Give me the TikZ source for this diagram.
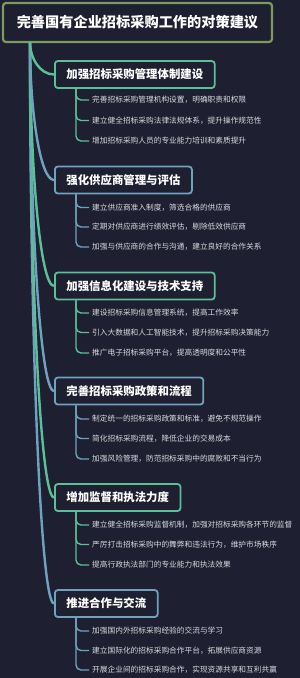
\documentclass[tikz,border=0pt]{standalone}
\usepackage{fontspec}
\setmainfont{Noto Sans CJK SC}
\usetikzlibrary{calc,positioning}
\definecolor{bg}{HTML}{1E1F31}
\definecolor{rootc}{HTML}{7D9B5E}
\definecolor{grn}{HTML}{5CBF97}
\definecolor{blu}{HTML}{6FA3BD}
\definecolor{leaftxt}{HTML}{D9D9DE}

\begin{document}
\begin{tikzpicture}[x=1pt,y=1pt,rootbox/.style={draw=rootc,line width=2.2pt,rounded corners=3pt,fill=bg,text=white,font=\fontsize{14.2}{16}\selectfont\bfseries,minimum width=269pt,minimum height=39pt},topic/.style={draw=#1,line width=1.8pt,rounded corners=3pt,fill=bg,text=white,font=\fontsize{11.4}{13}\selectfont\bfseries,anchor=west,inner xsep=11.5pt,minimum height=27pt},leaf/.style={anchor=west,text=leaftxt,font=\fontsize{7.7}{9}\selectfont,inner xsep=3pt,inner ysep=1pt},trunk/.style={draw=#1,line width=2.4pt,to path={.. controls ($(\tikztostart)!0.5!(\tikztostart|-\tikztotarget)$) and ($(\tikztotarget)+(-14,0)$) .. (\tikztotarget)}},twig/.style={draw=#1,line width=1.4pt,rounded corners=5pt}]
\fill[bg] (0,0) rectangle (300,-678);
\node[rootbox] (root) at (137.5,-22.5) {完善国有企业招标采购工作的对策建议};
\coordinate (rt) at (30,-42);
% main topics
\node[topic=grn] (b1) at (54,-74.5) {加强招标采购管理体制建设};
\node[topic=blu] (b2) at (54,-180) {强化供应商管理与评估};
\node[topic=grn] (b3) at (54,-286) {加强信息化建设与技术支持};
\node[topic=blu] (b4) at (54,-391) {完善招标采购政策和流程};
\node[topic=grn] (b5) at (54,-497.5) {增加监督和执法力度};
\node[topic=blu] (b6) at (54,-603.5) {推进合作与交流};
% details
\node[leaf] (l11) at (89,-100) {完善招标采购管理机构设置，明确职责和权限};
\node[leaf] (l12) at (89,-120.5) {建立健全招标采购法律法规体系，提升操作规范性};
\node[leaf] (l13) at (89,-141) {增加招标采购人员的专业能力培训和素质提升};
\node[leaf] (l21) at (89,-207.5) {建立供应商准入制度，筛选合格的供应商};
\node[leaf] (l22) at (89,-227) {定期对供应商进行绩效评估，剔除低效供应商};
\node[leaf] (l23) at (89,-247) {加强与供应商的合作与沟通，建立良好的合作关系};
\node[leaf] (l31) at (89,-313) {建设招标采购信息管理系统，提高工作效率};
\node[leaf] (l32) at (89,-332.5) {引入大数据和人工智能技术，提升招标采购决策能力};
\node[leaf] (l33) at (89,-353) {推广电子招标采购平台，提高透明度和公平性};
\node[leaf] (l41) at (89,-419) {制定统一的招标采购政策和标准，避免不规范操作};
\node[leaf] (l42) at (89,-438.5) {简化招标采购流程，降低企业的交易成本};
\node[leaf] (l43) at (89,-459) {加强风险管理，防范招标采购中的腐败和不当行为};
\node[leaf] (l51) at (89,-525) {建立健全招标采购监督机制，加强对招标采购各环节的监督};
\node[leaf] (l52) at (89,-544.5) {严厉打击招标采购中的舞弊和违法行为，维护市场秩序};
\node[leaf] (l53) at (89,-565) {提高行政执法部门的专业能力和执法效果};
\node[leaf] (l61) at (89,-631) {加强国内外招标采购经验的交流与学习};
\node[leaf] (l62) at (89,-650.5) {建立国际化的招标采购合作平台，拓展供应商资源};
\node[leaf] (l63) at (89,-670) {开展企业间的招标采购合作，实现资源共享和互利共赢};
% connectors
\draw[trunk=blu] (rt) to (b6.west);\draw[trunk=grn] (rt) to (b5.west);\draw[trunk=blu] (rt) to (b4.west);
\draw[trunk=grn] (rt) to (b3.west);\draw[trunk=blu] (rt) to (b2.west);\draw[trunk=grn] (rt) to (b1.west);
\foreach \b/\c in {1/grn,2/blu,3/grn,4/blu,5/grn,6/blu}{
  \foreach \k in {1,2,3}{\draw[twig=\c] ([xshift=22pt]b\b.south west) |- (l\b\k.west);}}
\end{tikzpicture}
\end{document}
